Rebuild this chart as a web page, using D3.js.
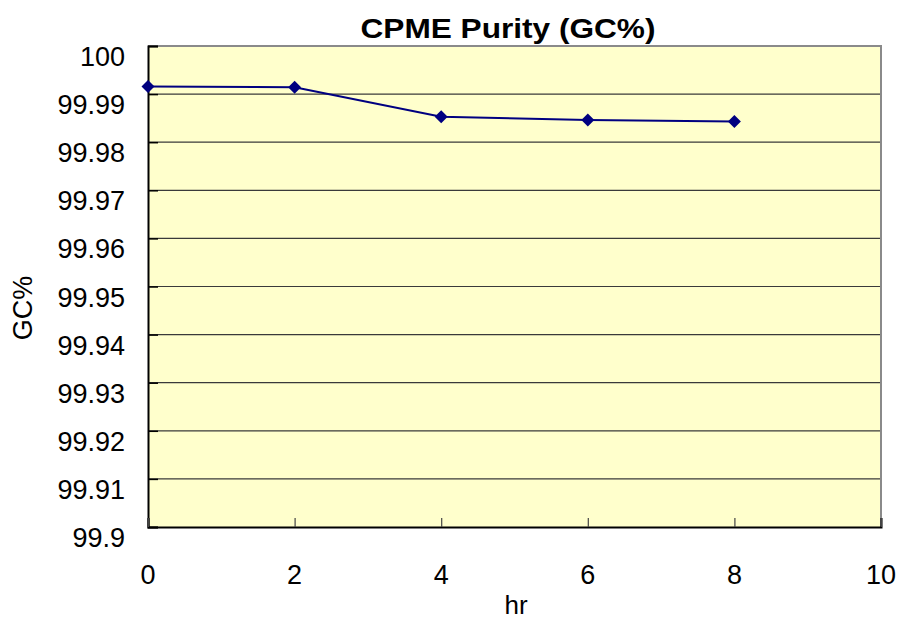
<!DOCTYPE html>
<html>
<head>
<meta charset="utf-8">
<script src="https://cdn.jsdelivr.net/npm/d3@7"></script>
<style>
  body { margin: 0; background: #fff; }
  text { font-family: "Liberation Sans", Arial, sans-serif; fill: #000; }
</style>
</head>
<body>
<div id="chart"></div>
<script>
// chart data
const hours = [0, 2, 4, 6, 8];
const purity = [99.9916, 99.9914, 99.9853, 99.9846, 99.9843];
const yTicks = [99.9, 99.91, 99.92, 99.93, 99.94, 99.95, 99.96, 99.97, 99.98, 99.99, 100];
const xTicks = [0, 2, 4, 6, 8, 10];

const width = 901, height = 621;
const margin = {top: 46, right: 20, bottom: 94, left: 148};
const innerW = 881 - margin.left, innerH = 527 - margin.top;

const svg = d3.select("#chart").append("svg")
  .attr("width", width)
  .attr("height", height);

const g = svg.append("g")
  .attr("transform", "translate(" + margin.left + "," + margin.top + ")");

const x = d3.scaleLinear().domain([0, 10]).range([0, innerW]);
const y = d3.scaleLinear().domain([99.9, 100]).range([innerH, 0]);

// plot background
g.append("rect")
  .attr("width", innerW)
  .attr("height", innerH)
  .attr("fill", "#ffffcc");

// horizontal gridlines
g.selectAll(".grid")
  .data(yTicks.slice(1, -1))
  .enter().append("line")
  .attr("class", "grid")
  .attr("x1", 0).attr("x2", innerW)
  .attr("y1", d => y(d)).attr("y2", d => y(d))
  .attr("stroke", "#3a3a3a")
  .attr("stroke-width", 1.2);

// top and right frame (gray)
g.append("path")
  .attr("d", "M0,0H" + innerW + "V" + innerH)
  .attr("fill", "none")
  .attr("stroke", "#8a8a8a")
  .attr("stroke-width", 2);

// y axis, ticks drawn inward
const yAxis = g.append("g")
  .call(d3.axisRight(y).tickValues(yTicks).tickSize(10).tickFormat(""));
yAxis.select(".domain").attr("stroke", "#000").attr("stroke-width", 2);
yAxis.selectAll(".tick line").attr("stroke", "#000").attr("stroke-width", 1.5);

// x axis, ticks drawn inward
const xAxis = g.append("g")
  .attr("transform", "translate(0," + innerH + ")")
  .call(d3.axisTop(x).tickValues(xTicks).tickSize(9).tickFormat(""));
xAxis.select(".domain").attr("stroke", "#000").attr("stroke-width", 2);
xAxis.selectAll(".tick line").attr("stroke", "#444").attr("stroke-width", 1.2);

// y tick labels
g.selectAll(".ylab")
  .data(yTicks)
  .enter().append("text")
  .attr("class", "ylab")
  .attr("x", -23)
  .attr("y", d => y(d) + 20)
  .attr("text-anchor", "end")
  .style("font-size", "27px")
  .text(d => d3.format("")(+d.toFixed(2)));

// x tick labels
g.selectAll(".xlab")
  .data(xTicks)
  .enter().append("text")
  .attr("class", "xlab")
  .attr("x", d => x(d))
  .attr("y", innerH + 57)
  .attr("text-anchor", "middle")
  .style("font-size", "27px")
  .text(d => d);

// data line
const line = d3.line()
  .x((d, i) => x(hours[i]))
  .y(d => y(d));

g.append("path")
  .datum(purity)
  .attr("d", line)
  .attr("fill", "none")
  .attr("stroke", "#000080")
  .attr("stroke-width", 2);

// diamond markers
g.selectAll(".pt")
  .data(purity)
  .enter().append("path")
  .attr("class", "pt")
  .attr("transform", (d, i) => "translate(" + x(hours[i]) + "," + y(d) + ")")
  .attr("d", "M0,-6.5L6.5,0L0,6.5L-6.5,0Z")
  .attr("fill", "#000080");

// title
svg.append("text")
  .attr("x", 508)
  .attr("y", 38)
  .attr("text-anchor", "middle")
  .attr("textLength", 295)
  .attr("lengthAdjust", "spacingAndGlyphs")
  .style("font-size", "28px")
  .style("font-weight", "bold")
  .text("CPME Purity (GC%)");

// axis titles
svg.append("text")
  .attr("x", 516)
  .attr("y", 614)
  .attr("text-anchor", "middle")
  .style("font-size", "26px")
  .text("hr");

svg.append("text")
  .attr("transform", "translate(32,308) rotate(-90)")
  .attr("text-anchor", "middle")
  .style("font-size", "27px")
  .text("GC%");
</script>
</body>
</html>
